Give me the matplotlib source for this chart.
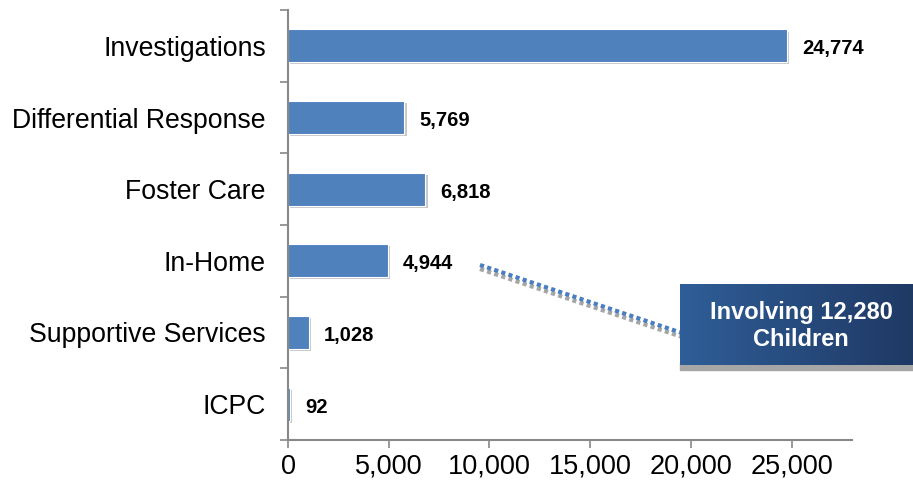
import numpy as np
import matplotlib.pyplot as plt
from matplotlib.lines import Line2D
from matplotlib.patches import Rectangle
from matplotlib.colors import LinearSegmentedColormap

# data
categories = ['Investigations', 'Differential Response', 'Foster Care',
              'In-Home', 'Supportive Services', 'ICPC']
values = [24774, 5769, 6818, 4944, 1028, 92]
xticks = [0, 5000, 10000, 15000, 20000, 25000]
callout_text = 'Involving 12,280\nChildren'

W, H = 913, 484
fig = plt.figure(figsize=(W / 100, H / 100), dpi=100)
ax = fig.add_axes([288 / W, 1 - 440 / H, (852 - 288) / W, 430 / H])

y = np.arange(len(categories))
# soft shadow under bars
ax.barh(y + 0.03, values, height=0.46, left=120, color='#c8c8c8', zorder=1)
ax.barh(y, values, height=0.46, color='#4F81BD', edgecolor='white', linewidth=0.8, zorder=2)

for yi, v in zip(y, values):
    ax.text(v + 750, yi + 0.04, f'{v:,}', va='center', ha='left',
            fontsize=14.5, fontweight='bold', family='Liberation Sans')

ax.set_ylim(len(categories) - 0.5, -0.5)
ax.set_xlim(0, 28000)
ax.set_yticks(y)
ax.set_yticklabels(categories, family='Liberation Sans', fontsize=19.2)
ax.set_yticks(np.arange(-0.5, len(categories), 1), minor=True)
ax.tick_params(axis='y', which='major', length=0, pad=16)
ax.tick_params(axis='y', which='minor', length=6, width=1.2, color='#888888')
ax.set_xticks(xticks)
ax.set_xticklabels([f'{t:,}' for t in xticks], family='Liberation Sans', fontsize=19.5)
ax.tick_params(axis='x', length=6, width=1.2, color='#888888', pad=4)

for s in ['top', 'right']:
    ax.spines[s].set_visible(False)
for s in ['left', 'bottom']:
    ax.spines[s].set_color('#888888')
    ax.spines[s].set_linewidth(1.5)

# dotted connector line (with gray shadow)
x0, y0, x1, y1 = 480 / W, 1 - 265 / H, 682 / W, 1 - 333 / H
fig.add_artist(Line2D([x0, x1], [y0 - 4 / H, y1 - 4 / H], transform=fig.transFigure,
                      color='#a6a6a6', lw=3, ls=(0, (1, 0.8))))
fig.add_artist(Line2D([x0, x1], [y0, y1], transform=fig.transFigure,
                      color='#4a7ec0', lw=3, ls=(0, (1, 0.8))))

# callout box with gradient
bx, by, bw, bh = 680, 284, 233, 81
fig.add_artist(Rectangle((bx / W, 1 - (by + bh + 5) / H), bw / W, 8 / H,
                         transform=fig.transFigure, color='#a6a6a6', zorder=3))
bax = fig.add_axes([bx / W, 1 - (by + bh) / H, bw / W, bh / H], zorder=4)
cmap = LinearSegmentedColormap.from_list('g', ['#2F5E98', '#1F3964'])
bax.imshow(np.linspace(0, 1, 256).reshape(1, -1), aspect='auto', cmap=cmap,
           extent=[0, 1, 0, 1])
bax.set_axis_off()
bax.text(0.52, 0.48, callout_text, ha='center', va='center', color='white',
         fontsize=17, fontweight='bold', family='Liberation Sans', linespacing=1.25)

fig.savefig('out.png', dpi=100)
